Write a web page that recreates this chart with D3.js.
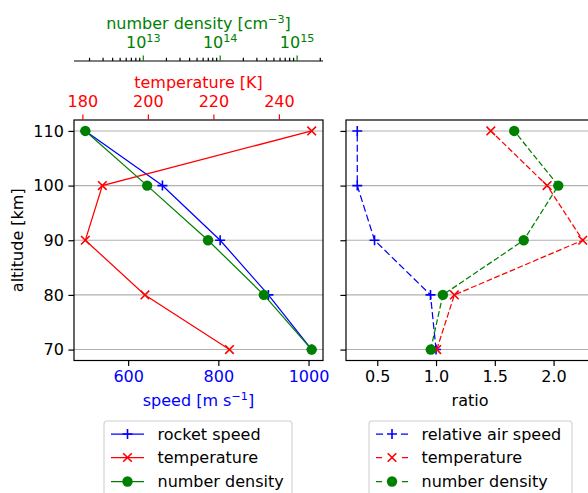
<!DOCTYPE html>
<html>
<head>
<meta charset="utf-8">
<script src="https://cdn.jsdelivr.net/npm/d3@7"></script>
<style>
html,body{margin:0;padding:0;background:#fff;}
svg{display:block;font-family:"DejaVu Sans",sans-serif;}
</style>
</head>
<body>
<svg id="chart" width="588" height="493"></svg>
<script>
// ---- data ----
const altitude = [70, 80, 90, 100, 110];
const rocketSpeed = [1007, 911, 804, 676, 505];
const temperature = [224.9, 199.1, 180.9, 186.1, 250.0];
const numberDensity = [1.57e15, 3.75e14, 7.05e13, 1.14e13, 1.79e12];
const ratioAirSpeed = [1.0, 0.953, 0.477, 0.33, 0.33];
const ratioTemperature = [1.006, 1.156, 2.248, 1.945, 1.466];
const ratioDensity = [0.955, 1.058, 1.746, 2.04, 1.665];

const altitudeTicks = [70, 80, 90, 100, 110];
const speedTicks = [600, 800, 1000];
const temperatureTicks = [180, 200, 220, 240];
const densityExponents = [13, 14, 15];
const ratioTicks = [0.5, 1.0, 1.5, 2.0];

const legendLeft = ["rocket speed", "temperature", "number density"];
const legendRight = ["relative air speed", "temperature", "number density"];

// ---- layout ----
const L = {x0: 74, x1: 323};
const R = {x0: 346, x1: 594};
const yTop = 120, yBot = 360.5;
const BLUE = "#0000ff", RED = "#ff0000", GREEN = "#008000";
const FS = 16;

function pad(ext, f = 0.05) { const d = ext[1] - ext[0]; return [ext[0] - d * f, ext[1] + d * f]; }

const y = d3.scaleLinear().domain(pad(d3.extent(altitude))).range([yBot, yTop]);
const xSpeed = d3.scaleLinear().domain(pad(d3.extent(rocketSpeed))).range([L.x0, L.x1]);
const xTemp = d3.scaleLinear().domain(pad(d3.extent(temperature))).range([L.x0, L.x1]);
const le = pad(d3.extent(numberDensity.map(Math.log10)));
const xDens = d3.scaleLog().domain([Math.pow(10, le[0]), Math.pow(10, le[1])]).range([L.x0, L.x1]);
const allRatio = ratioAirSpeed.concat(ratioTemperature, ratioDensity);
const xRatio = d3.scaleLinear().domain(pad(d3.extent(allRatio))).range([R.x0, R.x1]);

const svg = d3.select("#chart");
const defs = svg.append("defs");
defs.append("clipPath").attr("id", "clipR")
  .append("rect").attr("x", R.x0).attr("y", yTop).attr("width", R.x1 - R.x0).attr("height", yBot - yTop);
defs.append("clipPath").attr("id", "clipL")
  .append("rect").attr("x", L.x0 - 8).attr("y", yTop - 8).attr("width", L.x1 - L.x0 + 16).attr("height", yBot - yTop + 16);

// ---- grids ----
function grid(p) {
  svg.append("g").selectAll("line").data(altitudeTicks).join("line")
    .attr("x1", p.x0).attr("x2", p.x1)
    .attr("y1", d => y(d)).attr("y2", d => y(d))
    .attr("stroke", "#b0b0b0").attr("stroke-width", 1.1);
}
grid(L); grid(R);

// ---- markers ----
function marker(g, type, color, cx, cy) {
  if (type === "o") {
    g.append("circle").attr("cx", cx).attr("cy", cy).attr("r", 5.2).attr("fill", color);
  } else if (type === "+") {
    const s = 5;
    g.append("path").attr("d", `M${cx - s},${cy}H${cx + s}M${cx},${cy - s}V${cy + s}`)
      .attr("stroke", color).attr("stroke-width", 1.6).attr("fill", "none");
  } else {
    const s = 4.3;
    g.append("path").attr("d", `M${cx - s},${cy - s}L${cx + s},${cy + s}M${cx - s},${cy + s}L${cx + s},${cy - s}`)
      .attr("stroke", color).attr("stroke-width", 1.6).attr("fill", "none");
  }
}

function series(xs, scale, color, type, dash, clip) {
  const g = svg.append("g").attr("clip-path", `url(#${clip})`);
  const pts = altitude.map((a, i) => [scale(xs[i]), y(a)]);
  g.append("path").attr("d", d3.line()(pts)).attr("fill", "none")
    .attr("stroke", color).attr("stroke-width", 1.25)
    .attr("stroke-dasharray", dash || null);
  pts.forEach(p => marker(g, type, color, p[0], p[1]));
}

// left panel
series(rocketSpeed, xSpeed, BLUE, "+", null, "clipL");
series(temperature, xTemp, RED, "x", null, "clipL");
series(numberDensity, xDens, GREEN, "o", null, "clipL");
// right panel
series(ratioAirSpeed, xRatio, BLUE, "+", "7,3.2", "clipR");
series(ratioTemperature, xRatio, RED, "x", "5.8,2.6", "clipR");
series(ratioDensity, xRatio, GREEN, "o", "5.8,2.6", "clipR");

// ---- frames ----
[L, R].forEach(p => {
  svg.append("rect").attr("x", p.x0).attr("y", yTop).attr("width", p.x1 - p.x0).attr("height", yBot - yTop)
    .attr("fill", "none").attr("stroke", "#000").attr("stroke-width", 1.2);
});

// ---- axes ----
function styleAxis(g, tickColor, textColor) {
  g.select(".domain").remove();
  g.selectAll(".tick line").attr("stroke", tickColor).attr("stroke-width", 1.2);
  g.selectAll(".tick text").attr("fill", textColor).attr("font-size", FS)
    .attr("font-family", "DejaVu Sans, sans-serif");
}
const TS = 5.6;
styleAxis(svg.append("g").attr("transform", `translate(${L.x0},0)`)
  .call(d3.axisLeft(y).tickValues(altitudeTicks).tickSize(TS).tickPadding(4.5).tickFormat(d3.format("d"))), "#000", "#000");
styleAxis(svg.append("g").attr("transform", `translate(${R.x0},0)`)
  .call(d3.axisLeft(y).tickValues(altitudeTicks).tickSize(TS).tickFormat("")), "#000", "#000");
styleAxis(svg.append("g").attr("transform", `translate(0,${yBot})`)
  .call(d3.axisBottom(xSpeed).tickValues(speedTicks).tickSize(TS).tickPadding(4.6).tickFormat(d3.format("d"))), "#000", BLUE);
styleAxis(svg.append("g").attr("transform", `translate(0,${yBot})`)
  .call(d3.axisBottom(xRatio).tickValues(ratioTicks).tickSize(TS).tickPadding(4.6).tickFormat(d3.format(".1f"))), "#000", "#000");
styleAxis(svg.append("g").attr("transform", `translate(0,${yTop})`)
  .call(d3.axisTop(xTemp).tickValues(temperatureTicks).tickSize(TS).tickPadding(7.4).tickFormat(d3.format("d"))), RED, RED);

// number density top axis (offset spine)
const dY = 61;
svg.append("line").attr("x1", L.x0).attr("x2", L.x1).attr("y1", dY).attr("y2", dY)
  .attr("stroke", "#000").attr("stroke-width", 1.2);
const minorVals = [];
for (let e = 12; e <= 15; e++) for (let m = 2; m <= 9; m++) {
  const v = m * Math.pow(10, e);
  if (v >= xDens.domain()[0] && v <= xDens.domain()[1]) minorVals.push(v);
}
styleAxis(svg.append("g").attr("transform", `translate(0,${dY})`)
  .call(d3.axisTop(xDens).tickValues(minorVals).tickSize(3.2).tickFormat("")), "#000", "#000");
const majorVals = densityExponents.map(e => Math.pow(10, e));
const gD = svg.append("g").attr("transform", `translate(0,${dY})`)
  .call(d3.axisTop(xDens).tickValues(majorVals).tickSize(TS).tickPadding(7.4).tickFormat(() => ""));
styleAxis(gD, GREEN, GREEN);
gD.selectAll(".tick text").each(function(d, i) {
  const t = d3.select(this).attr("text-anchor", "middle");
  t.selectAll("*").remove();
  t.text(null);
  t.append("tspan").text("10");
  t.append("tspan").attr("font-size", 11.2).attr("dy", -6.5).text(String(densityExponents[i]));
});

// ---- axis labels ----
function label(x, yy, color, parts) {
  const t = svg.append("text").attr("x", x).attr("y", yy).attr("fill", color)
    .attr("font-size", FS).attr("text-anchor", "middle");
  parts.forEach(p => {
    if (typeof p === "string") t.append("tspan").text(p);
    else t.append("tspan").attr("font-size", p.fs || 11.2).attr("dy", p.dy).text(p.t);
  });
  return t;
}
const cxL = (L.x0 + L.x1) / 2;
label(cxL, 29, GREEN, ["number density [cm", {t: "\u22123", dy: -6.5}, {t: "]", dy: 6.5, fs: FS}]);
label(cxL, 88, RED, ["temperature [K]"]);
label(cxL, 406, BLUE, ["speed [m s", {t: "\u22121", dy: -6.5}, {t: "]", dy: 6.5, fs: FS}]);
label((R.x0 + R.x1) / 2, 406, "#000", ["ratio"]);
svg.append("text").attr("transform", `translate(23,${(yTop + yBot) / 2}) rotate(-90)`)
  .attr("text-anchor", "middle").attr("font-size", FS).attr("fill", "#000").text("altitude [km]");

// ---- legends ----
function legend(x0, w, names, colors, types, dashes, sx0, sx1, tx) {
  svg.append("rect").attr("x", x0).attr("y", 421).attr("width", w).attr("height", 78)
    .attr("rx", 3).attr("fill", "#fff").attr("stroke", "#d0d0d0").attr("stroke-width", 1.1);
  const rows = [434, 457.5, 481.5];
  names.forEach((n, i) => {
    const cy = rows[i];
    const g = svg.append("g");
    g.append("line").attr("x1", sx0).attr("x2", sx1).attr("y1", cy).attr("y2", cy)
      .attr("stroke", colors[i]).attr("stroke-width", 1.25)
      .attr("stroke-dasharray", dashes ? dashes[i] : null);
    marker(g, types[i], colors[i], (sx0 + sx1) / 2, cy);
    svg.append("text").attr("x", tx).attr("y", cy + 5.6).attr("font-size", FS).attr("fill", "#000").text(n);
  });
}
legend(104, 188, legendLeft, [BLUE, RED, GREEN], ["+", "x", "o"], null, 111, 144, 157.5);
legend(369, 203, legendRight, [BLUE, RED, GREEN], ["+", "x", "o"], ["7,18", "6,20", "6,20"], 376, 408, 421.5);
</script>
</body>
</html>
